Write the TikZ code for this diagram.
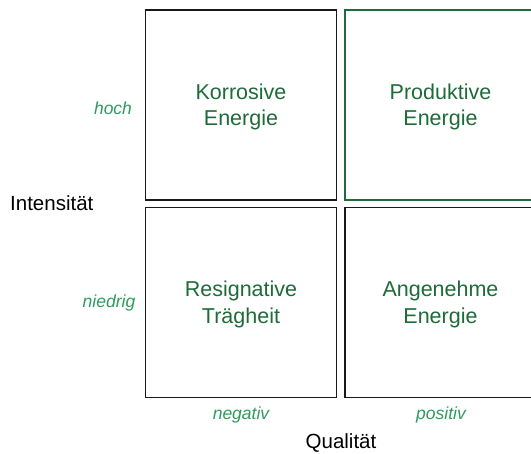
\documentclass[tikz,border=0pt]{standalone}
\usepackage{fontspec}
\setmainfont{Liberation Sans}
\definecolor{boxtext}{HTML}{1E6B3A}
\definecolor{lbl}{HTML}{2E9B5E}
\definecolor{gborder}{HTML}{1F6B3F}
\begin{document}
\begin{tikzpicture}[x=1pt,y=-1pt,
  quad/.style={draw=black!90,line width=1.6pt,minimum width=191pt,minimum height=190pt,inner sep=0pt},
  qtext/.style={font=\fontsize{21.5}{26.5}\selectfont,text=boxtext,align=center,inner sep=0pt},
  axlbl/.style={font=\fontsize{17.5}{20}\selectfont\itshape,text=lbl,inner sep=0pt},
  axtitle/.style={font=\fontsize{20.5}{24}\selectfont,text=black,inner sep=0pt}]
\useasboundingbox (0,0) rectangle (531,454);
\begin{scope}
\clip (0,0) rectangle (531,454);
\node[quad] (kor) at (241,105) {};
\node[quad,draw=gborder] (pro) at (440.5,105) {};
\node[quad] (res) at (241,302.5) {};
\node[quad] (ang) at (440.5,302.5) {};
\end{scope}
\node[qtext] (kort) at ([yshift=-2pt]kor.center) {Korrosive\\Energie};
\node[qtext] (prot) at ([yshift=-2pt]pro.center) {Produktive\\Energie};
\node[qtext] (rest) at ([yshift=-2pt]res.center) {Resignative\\Trägheit};
\node[qtext] (angt) at ([yshift=-2pt]ang.center) {Angenehme\\Energie};
\node[axlbl] (hoch) at (113,108) {hoch};
\node[axlbl] (nied) at (109,303) {niedrig};
\node[axlbl] (neg) at (241,415) {negativ};
\node[axlbl] (pos) at (441,415) {positiv};
\node[axtitle,anchor=west] (int) at (10,203) {Intensität};
\node[axtitle] (qual) at (341,443) {Qualität};
\end{tikzpicture}
\end{document}
